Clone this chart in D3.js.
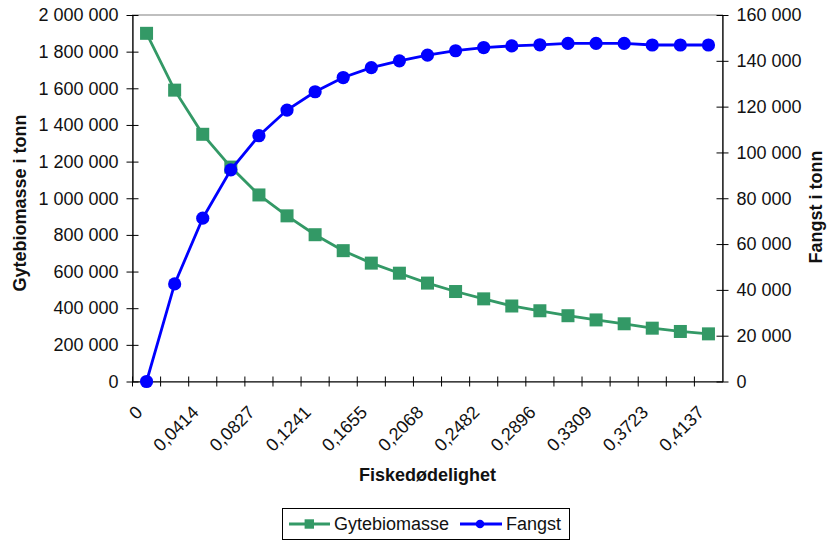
<!DOCTYPE html>
<html>
<head>
<meta charset="utf-8">
<script src="https://cdn.jsdelivr.net/npm/d3@7"></script>
<style>
  html, body { margin: 0; padding: 0; background: #fff; }
  svg { display: block; font-family: "Liberation Sans", Arial, sans-serif; }
</style>
</head>
<body>
<svg id="chart" width="827" height="540"></svg>
<script>
// Fishing mortality (category axis)
const categories = ["0", "0,0207", "0,0414", "0,0621", "0,0827", "0,1034", "0,1241",
  "0,1448", "0,1655", "0,1861", "0,2068", "0,2275", "0,2482", "0,2689", "0,2896",
  "0,3102", "0,3309", "0,3516", "0,3723", "0,3930", "0,4137"];

// Spawning stock biomass, tonnes (left axis)
const gytebiomasse = [1900000, 1590000, 1349000, 1170000, 1018000, 904000, 801000,
  714000, 646000, 591000, 537000, 491000, 451000, 412000, 386000,
  359000, 336000, 315000, 291000, 273000, 260000];

// Catch, tonnes (right axis)
const fangst = [0, 42600, 71300, 92400, 107300, 118500, 126500,
  132700, 137000, 140000, 142500, 144400, 145800, 146500, 147000,
  147600, 147600, 147600, 146900, 146900, 146900];

const leftTicks = [0, 200000, 400000, 600000, 800000, 1000000, 1200000,
  1400000, 1600000, 1800000, 2000000];
const rightTicks = [0, 20000, 40000, 60000, 80000, 100000, 120000, 140000, 160000];

const seriesNames = ["Gytebiomasse", "Fangst"];
const colors = { green: "#339966", blue: "#0000ff" };

const svg = d3.select("#chart");
const plotLeft = 132.5, plotRight = 722.5, plotTop = 15, plotBottom = 381.5;

const nf = d3.formatLocale({ decimal: ",", thousands: " ", grouping: [3], currency: ["", ""] }).format(",d");

const x = d3.scaleBand().domain(categories).range([plotLeft, plotRight]).padding(0);
const yL = d3.scaleLinear().domain([0, 2000000]).range([plotBottom, plotTop]);
const yR = d3.scaleLinear().domain([0, 160000]).range([plotBottom, plotTop]);
const bw = x.bandwidth();

// plot area border
svg.append("rect")
  .attr("x", plotLeft).attr("y", plotTop)
  .attr("width", plotRight - plotLeft).attr("height", plotBottom - plotTop)
  .attr("fill", "none").attr("stroke", "#808080").attr("stroke-width", 1);

// left axis
const gL = svg.append("g").attr("transform", `translate(${plotLeft},0)`)
  .call(d3.axisLeft(yL).tickValues(leftTicks).tickFormat(nf).tickSizeOuter(0).tickSize(0));
gL.selectAll(".tick").append("line").attr("x1", -6).attr("x2", 6).attr("stroke", "#000");
gL.selectAll(".tick text").attr("x", -14).attr("font-size", 18).attr("fill", "#111")
  .attr("font-family", "'Liberation Sans', Arial, sans-serif");

// right axis
const gR = svg.append("g").attr("transform", `translate(${plotRight},0)`)
  .call(d3.axisRight(yR).tickValues(rightTicks).tickFormat(nf).tickSizeOuter(0).tickSize(0));
gR.selectAll(".tick").append("line").attr("x1", -6).attr("x2", 6).attr("stroke", "#000");
gR.selectAll(".tick text").attr("x", 14).attr("font-size", 18).attr("fill", "#111")
  .attr("font-family", "'Liberation Sans', Arial, sans-serif");

// bottom axis: ticks at category boundaries, labels every other category
const gB = svg.append("g").attr("transform", `translate(0,${plotBottom})`)
  .call(d3.axisBottom(x).tickSize(0).tickSizeOuter(0)
    .tickFormat((d, i) => (i % 2 === 0 ? d : "")));
gB.selectAll(".tick").append("line")
  .attr("x1", -bw / 2).attr("x2", -bw / 2).attr("y1", -5).attr("y2", 5).attr("stroke", "#000");
gB.selectAll(".tick text")
  .attr("y", 0).attr("dy", 0)
  .attr("text-anchor", "end")
  .attr("transform", "translate(-3,32) rotate(-45)")
  .attr("font-size", 18).attr("fill", "#111")
  .attr("font-family", "'Liberation Sans', Arial, sans-serif");

[gL, gR, gB].forEach(g => g.select(".domain").attr("stroke", "#000").attr("stroke-width", 1.2));

// axis titles
svg.append("text")
  .attr("transform", `translate(26,203) rotate(-90)`)
  .attr("text-anchor", "middle").attr("font-size", 18).attr("font-weight", "bold")
  .attr("fill", "#111").text("Gytebiomasse i tonn");
svg.append("text")
  .attr("transform", `translate(822,207) rotate(-90)`)
  .attr("text-anchor", "middle").attr("font-size", 18).attr("font-weight", "bold")
  .attr("fill", "#111").text("Fangst i tonn");
svg.append("text")
  .attr("x", (plotLeft + plotRight) / 2).attr("y", 481)
  .attr("text-anchor", "middle").attr("font-size", 18).attr("font-weight", "bold")
  .attr("fill", "#111").text("Fiskedødelighet");

const cx = (d, i) => x(categories[i]) + bw / 2;

// spawning biomass series
const lineL = d3.line().x((d, i) => cx(d, i)).y(d => yL(d));
svg.append("path").datum(gytebiomasse)
  .attr("d", lineL).attr("fill", "none")
  .attr("stroke", colors.green).attr("stroke-width", 2.8);
svg.append("g").selectAll("rect").data(gytebiomasse).join("rect")
  .attr("x", (d, i) => cx(d, i) - 6.5).attr("y", d => yL(d) - 6.5)
  .attr("width", 13).attr("height", 13)
  .attr("fill", colors.green);

// catch series
const lineR = d3.line().x((d, i) => cx(d, i)).y(d => yR(d));
svg.append("path").datum(fangst)
  .attr("d", lineR).attr("fill", "none")
  .attr("stroke", colors.blue).attr("stroke-width", 2.8);
svg.append("g").selectAll("circle").data(fangst).join("circle")
  .attr("cx", (d, i) => cx(d, i)).attr("cy", d => yR(d)).attr("r", 6.6)
  .attr("fill", colors.blue);

// legend
const lg = svg.append("g");
lg.append("rect").attr("x", 282.5).attr("y", 508.5).attr("width", 287).attr("height", 31)
  .attr("fill", "#fff").attr("stroke", "#000").attr("stroke-width", 1);
const ly = 524;
lg.append("line").attr("x1", 289).attr("x2", 330).attr("y1", ly).attr("y2", ly)
  .attr("stroke", colors.green).attr("stroke-width", 2.8);
lg.append("rect").attr("x", 309.3 - 4.7).attr("y", ly - 4.7).attr("width", 9.4).attr("height", 9.4)
  .attr("fill", colors.green);
lg.append("text").attr("x", 334).attr("y", ly).attr("dy", "0.35em")
  .attr("font-size", 18).attr("fill", "#111").text(seriesNames[0]);
lg.append("line").attr("x1", 460).attr("x2", 502).attr("y1", ly).attr("y2", ly)
  .attr("stroke", colors.blue).attr("stroke-width", 2.8);
lg.append("circle").attr("cx", 480).attr("cy", ly).attr("r", 4.3).attr("fill", colors.blue);
lg.append("text").attr("x", 506).attr("y", ly).attr("dy", "0.35em")
  .attr("font-size", 18).attr("fill", "#111").text(seriesNames[1]);
</script>
</body>
</html>
